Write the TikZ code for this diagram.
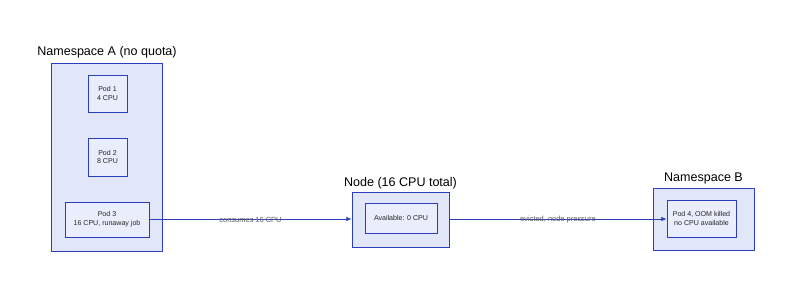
\documentclass[tikz,border=0pt]{standalone}
\usepackage{fontspec}
\setmainfont{Liberation Sans}
\usetikzlibrary{arrows.meta}
\definecolor{boxfill}{HTML}{E1E6F9}
\definecolor{boxline}{HTML}{2B3FBE}
\definecolor{labgray}{HTML}{5A5A66}
\tikzset{
  group/.style={draw=boxline, fill=boxfill, line width=0.6pt},
  podbox/.style={draw=boxline, fill=boxfill!70!white, line width=0.6pt, align=center, font=\fontsize{5.3}{6.6}\selectfont, text=black!85},
  grouptitle/.style={font=\fontsize{9.4}{11}\selectfont, text=black},
  conn/.style={draw=boxline, line width=0.6pt, -{Latex[length=4pt,width=3.5pt]}},
  edgelab/.style={font=\fontsize{5.6}{6.6}\selectfont, text=labgray}
}
\begin{document}
\begin{tikzpicture}[x=0.75pt,y=-0.75pt]
\useasboundingbox (0,0) rectangle (800,296);
% Namespace A
\draw[group] (51,63) rectangle (162,251);
\node[grouptitle] (tA) at (107,52) {Namespace A (no quota)};
\node[podbox, minimum width=39*0.75pt, minimum height=37*0.75pt] (p1) at (107.5,93.5) {Pod 1\\4 CPU};
\node[podbox, minimum width=39*0.75pt, minimum height=38*0.75pt] (p2) at (107.5,157) {Pod 2\\8 CPU};
\node[podbox, minimum width=84*0.75pt, minimum height=35*0.75pt] (p3) at (107,219.5) {Pod 3\\16 CPU, runaway job};
% Node
\node[group, minimum width=97*0.75pt, minimum height=55*0.75pt] (nd) at (400.5,219.5) {};
\node[grouptitle] (tN) at (400.5,183) {Node (16 CPU total)};
\node[podbox, minimum width=72*0.75pt, minimum height=30*0.75pt] (av) at (401,218) {Available: 0 CPU};
% Namespace B
\node[group, minimum width=101*0.75pt, minimum height=62*0.75pt] (nb) at (703.5,219) {};
\node[grouptitle] (tB) at (703.5,178) {Namespace B};
\node[podbox, minimum width=69*0.75pt, minimum height=37*0.75pt] (p4) at (701.5,218.5) {Pod 4, OOM killed\\no CPU available};
% connectors
\draw[conn] (p3.east |- 0,219) -- (nd.west |- 0,219) node[edgelab, midway, yshift=-0.5pt] {consumes 16 CPU};
\draw[conn] (nd.east |- 0,219) -- (p4.west |- 0,219) node[edgelab, midway, yshift=-0.5pt] {evicted, node pressure};
\end{tikzpicture}
\end{document}
